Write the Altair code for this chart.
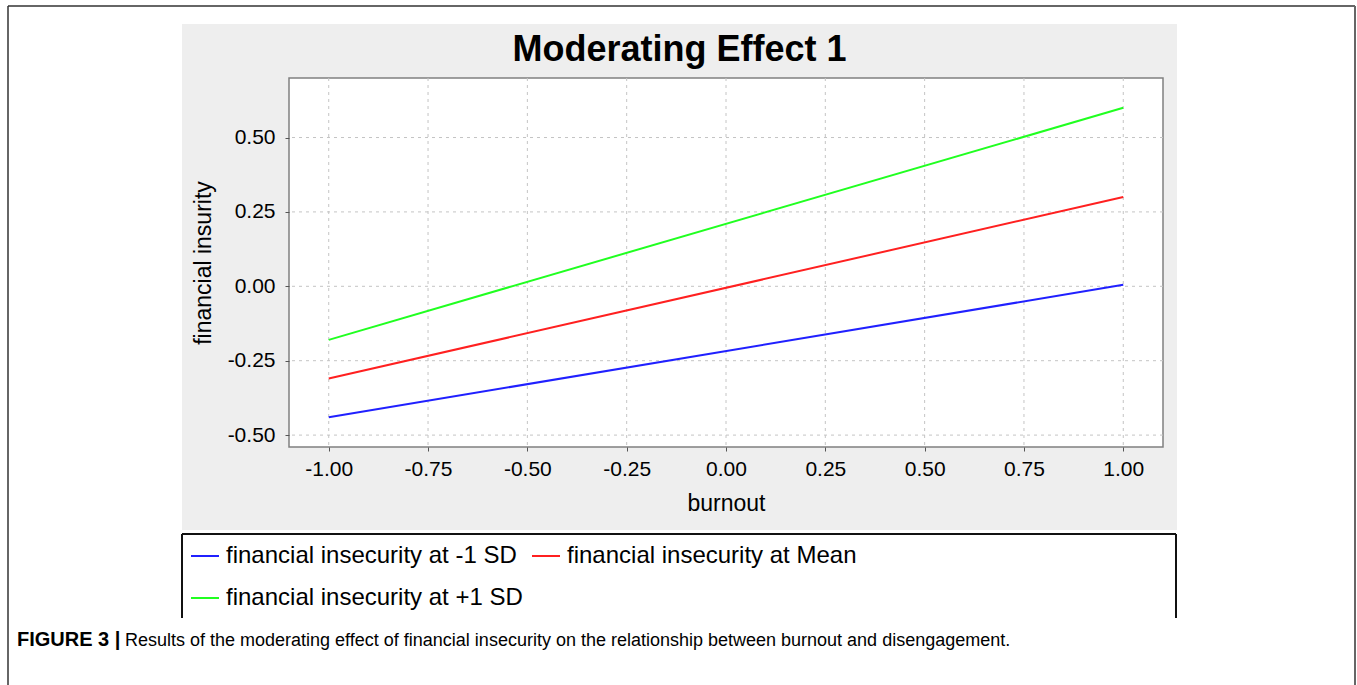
import altair as alt
import pandas as pd

# ---- data ----
burnout = [-1.0, 1.0]
series_names = [
    "financial insecurity at -1 SD",
    "financial insecurity at Mean",
    "financial insecurity at +1 SD",
]
low_sd = [-0.44, 0.005]
at_mean = [-0.31, 0.30]
high_sd = [-0.18, 0.60]
series_colors = ["#2020ff", "#ff2020", "#20ff20"]
x_ticks = [-1.0, -0.75, -0.5, -0.25, 0.0, 0.25, 0.5, 0.75, 1.0]
y_ticks = [-0.5, -0.25, 0.0, 0.25, 0.5]

chart_title = "Moderating Effect 1"
x_title = "burnout"
y_title = "financial insurity"
caption_bold = "FIGURE 3 |"
caption_text = ("Results of the moderating effect of financial insecurity on the "
                "relationship between burnout and disengagement.")

rows = []
for name, vals in zip(series_names, [low_sd, at_mean, high_sd]):
    for xv, yv in zip(burnout, vals):
        rows.append({"burnout": xv, "value": yv, "series": name})
df = pd.DataFrame(rows)
x_grid_df = pd.DataFrame({"burnout": x_ticks})
y_grid_df = pd.DataFrame({"value": y_ticks})

W, H = 874, 369
FONT = "Liberation Sans"
one = pd.DataFrame({"d": [0]})
x_scale = alt.Scale(domain=[-1.1, 1.1], nice=False, zero=False)
y_scale = alt.Scale(domain=[-0.54, 0.70], nice=False, zero=False)


def rect(x, x2, y, y2, fill, stroke=None, sw=0):
    kw = dict(fill=fill)
    if stroke:
        kw.update(stroke=stroke, strokeWidth=sw)
    return alt.Chart(one).mark_rect(**kw).encode(
        x=alt.value(x), x2=alt.value(x2), y=alt.value(y), y2=alt.value(y2))


def hrule(x, x2, y, color, sw):
    return alt.Chart(one).mark_rule(color=color, strokeWidth=sw).encode(
        x=alt.value(x), x2=alt.value(x2), y=alt.value(y))


def vrule(x, y, y2, color, sw):
    return alt.Chart(one).mark_rule(color=color, strokeWidth=sw).encode(
        x=alt.value(x), y=alt.value(y), y2=alt.value(y2))


def text(x, y, s, size, weight="normal", align="left"):
    return alt.Chart(one).mark_text(
        font=FONT, fontSize=size, fontWeight=weight, align=align,
        baseline="alphabetic", color="black").encode(
        x=alt.value(x), y=alt.value(y), text=alt.value(s))


# outer figure border
outer = [
    hrule(-281, 1066, -72, "#333333", 1.5),
    vrule(-281, -72, 607, "#333333", 1.5),
    vrule(1066, -72, 607, "#666666", 2),
]
panel = rect(-107, 888, -54, 452, "#eeeeee")
legend_box = [
    rect(-107, 887, 456, 540, "white"),
    hrule(-107, 887, 456, "#111111", 2),
    vrule(-107, 456, 540, "#111111", 2),
    vrule(887, 456, 540, "#111111", 2),
]
plot_bg = rect(0, W, 0, H, "white", "#808080", 1.5)
title = text(390.5, -17, chart_title, 36, "bold", "center")
cap1 = text(-272, 568, caption_bold, 20, "bold")
cap2 = text(-164, 568, caption_text, 18)

lab_expr = "replace(format(datum.value, '.2f'), '\u2212', '-')"

common_axis = dict(
    zindex=1, domain=False, grid=False, tickSize=4, tickColor="#555555",
    labelFont=FONT, labelFontSize=21, labelColor="black", titleFont=FONT,
    titleFontWeight="normal", titleColor="black", labelFlush=False,
    labelOverlap=False, titleFontSize=23, labelExpr=lab_expr,
)
x_axis = alt.Axis(values=x_ticks, title=x_title, titleY=45, labelPadding=7,
                  **common_axis)
y_axis = alt.Axis(values=y_ticks, title=y_title, titleX=-74, titleY=H / 2,
                  labelPadding=10, **common_axis)

grid_style = dict(color="#c4c4c4", strokeWidth=1, strokeDash=[3, 4])
x_grid = alt.Chart(x_grid_df).mark_rule(**grid_style).encode(
    x=alt.X("burnout:Q", scale=x_scale, axis=x_axis))
y_grid = alt.Chart(y_grid_df).mark_rule(**grid_style).encode(
    y=alt.Y("value:Q", scale=y_scale, axis=y_axis))

lines = alt.Chart(df).mark_line(strokeWidth=2).encode(
    x=alt.X("burnout:Q", scale=x_scale, axis=x_axis),
    y=alt.Y("value:Q", scale=y_scale, axis=y_axis),
    color=alt.Color("series:N",
                    scale=alt.Scale(domain=series_names, range=series_colors),
                    legend=alt.Legend(
                        title=None, orient="none", legendX=-99, legendY=463,
                        direction="horizontal", columns=2, columnPadding=5,
                        rowPadding=15, symbolType="stroke", symbolSize=784,
                        symbolStrokeWidth=2, labelFontSize=24, labelFont=FONT,
                        labelColor="black", labelLimit=800, labelOffset=6,
                        padding=0)),
    order="burnout:Q",
)

chart = alt.layer(
    *outer, panel, *legend_box, plot_bg, title, cap1, cap2,
    x_grid, y_grid, lines
).properties(
    width=W, height=H,
    padding={"left": 289, "top": 78, "right": 194, "bottom": 238},
    autosize=alt.AutoSizeParams(type="none"),
    background="white",
).configure_view(stroke=None)

chart.save("out.html", embed_options={"renderer": "svg", "actions": False})
